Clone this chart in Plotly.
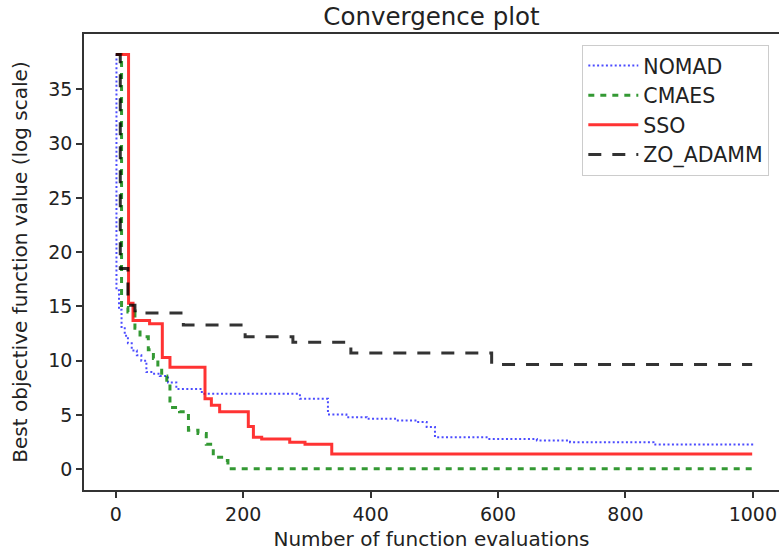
import plotly.graph_objects as go

# best objective value so far, read at the evaluations where each curve steps down
nomad_evals = [0, 1, 5, 9, 14, 19, 25, 33, 40, 48, 58, 69, 82, 95, 135, 289, 333,
               362, 394, 441, 472, 488, 501, 582, 661, 713, 844, 999]
nomad_best = [38.2, 16.5, 14.7, 13.1, 12.3, 11.6, 10.95, 10.5, 10.0, 8.95, 8.8, 8.6,
              8.0, 7.4, 6.95, 6.5, 5.05, 4.8, 4.65, 4.5, 4.35, 3.9, 2.95, 2.8, 2.65,
              2.5, 2.28, 2.1]

cmaes_evals = [0, 9, 19, 30, 38, 51, 59, 66, 72, 80, 85, 100, 114, 129, 142, 153,
               169, 176, 999]
cmaes_best = [38.2, 14.9, 14.5, 13.0, 12.2, 11.0, 10.2, 9.4, 8.6, 7.9, 5.7, 5.3, 3.6,
              3.3, 2.3, 1.1, 0.8, 0.05, 0.05]

sso_evals = [0, 20, 27, 53, 73, 85, 140, 150, 163, 208, 216, 229, 273, 297, 339, 999]
sso_best = [38.2, 15.3, 13.7, 13.4, 10.3, 9.4, 6.5, 5.9, 5.3, 3.95, 2.95, 2.8, 2.5,
            2.3, 1.4, 1.4]

zo_evals = [0, 7, 19, 30, 40, 106, 203, 278, 369, 590, 999]
zo_best = [38.2, 18.5, 15.1, 14.6, 14.4, 13.3, 12.2, 11.7, 10.7, 9.66, 9.66]

x_ticks = [0, 200, 400, 600, 800, 1000]
y_ticks = [0, 5, 10, 15, 20, 25, 30, 35]

FONT = "DejaVu Sans"
INK = "#222222"

fig = go.Figure()
series = [
    ("NOMAD", nomad_evals, nomad_best, "rgba(0,0,255,0.7)", 2, "2px,2.4px"),
    ("CMAES", cmaes_evals, cmaes_best, "rgba(0,128,0,0.8)", 3, "6px,6px"),
    ("SSO", sso_evals, sso_best, "rgba(255,0,0,0.8)", 3, "solid"),
    ("ZO_ADAMM", zo_evals, zo_best, "rgba(0,0,0,0.8)", 3, "13px,11px"),
]
for name, xs, ys, color, width, dash in series:
    fig.add_trace(
        go.Scatter(
            x=xs,
            y=ys,
            mode="lines",
            name=name,
            line={"color": color, "width": width, "dash": dash, "shape": "hv"},
        )
    )

fig.update_layout(
    width=779,
    height=558,
    paper_bgcolor="white",
    plot_bgcolor="white",
    font={"family": FONT, "size": 19, "color": INK},
    title={
        "text": "Convergence plot",
        "font": {"size": 24.5, "color": INK},
        "x": 0.5,
        "xref": "paper",
        "xanchor": "center",
        "y": 1 - 16 / 558,
        "yref": "container",
        "yanchor": "middle",
        "automargin": False,
    },
    margin={"l": 84, "r": 0, "t": 34, "b": 68},
    legend={
        "x": 0.717,
        "y": 0.9765,
        "xanchor": "left",
        "yanchor": "top",
        "bgcolor": "white",
        "bordercolor": "#cccccc",
        "borderwidth": 1,
        "itemwidth": 50,
        "font": {"size": 20.5, "color": INK},
    },
)
fig.update_xaxes(
    range=[-49.95, 1041.1],
    tickvals=x_ticks,
    automargin=False,
    showgrid=False,
    zeroline=False,
    showline=True,
    mirror=True,
    linecolor="#333333",
    linewidth=1.6,
    ticks="outside",
    ticklen=6,
    tickwidth=1.5,
    tickcolor="#333333",
    title={"text": "Number of function evaluations", "font": {"size": 20}, "standoff": 8},
)
fig.update_yaxes(
    range=[-1.91, 40.1],
    tickvals=y_ticks,
    automargin=False,
    showgrid=False,
    zeroline=False,
    showline=True,
    linecolor="#333333",
    linewidth=1.6,
    ticks="outside",
    ticklen=6,
    tickwidth=1.5,
    tickcolor="#333333",
    title={"text": "Best objective function value (log scale)", "font": {"size": 20}, "standoff": 15},
)

# the page body keeps its default 8px margin otherwise
fig.write_html(
    "out.html",
    config={"displayModeBar": False},
    post_script="document.body.style.margin = '0';",
)
